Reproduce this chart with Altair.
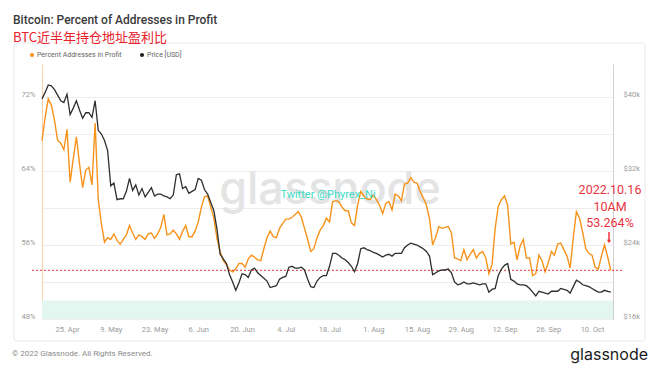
import altair as alt
import pandas as pd

# ---------------- data ----------------
dates = pd.date_range("2022-04-17", "2022-10-16", freq="D").strftime("%Y-%m-%d").tolist()

pct_in_profit = [
    67.3, 69.8, 71.8, 71.1, 69.5, 67.3, 67.0, 66.3, 68.5, 62.8,
    65.3, 67.7, 64.8, 62.2, 64.1, 64.4, 62.5, 69.2, 60.9, 58.3,
    56.3, 56.8, 56.6, 57.2, 56.5, 56.1, 56.6, 57.1, 58.1, 57.3,
    56.6, 57.1, 56.9, 56.6, 57.2, 57.3, 56.7, 57.2, 57.9, 59.3,
    57.1, 57.2, 57.6, 57.2, 56.6, 57.5, 58.1, 56.9, 56.9, 57.5,
    58.5, 60.1, 61.2, 61.3, 60.1, 58.9, 56.7, 55.3, 54.3, 53.9,
    53.3, 53.1, 53.4, 54.0, 54.0, 53.6, 54.5, 54.9, 54.7, 54.4,
    54.3, 55.6, 56.8, 57.5, 56.9, 56.8, 57.8, 58.3, 58.8, 58.8,
    59.0, 59.3, 59.6, 59.0, 57.8, 56.6, 55.3, 55.6, 56.8, 57.6,
    58.1, 58.9, 58.5, 60.7, 60.8, 60.7, 60.1, 59.7, 59.7, 58.4,
    58.1, 60.3, 61.8, 61.3, 61.0, 60.9, 61.4, 60.9, 60.3, 59.4,
    60.5, 60.7, 59.8, 61.5, 61.3, 60.8, 62.6, 62.7, 63.3, 62.8,
    62.7, 61.8, 61.1, 60.3, 58.8, 56.0, 56.9, 58.0, 57.8, 57.9,
    58.0, 57.3, 54.6, 54.5, 54.3, 55.5, 54.4, 55.0, 55.5, 54.6,
    55.1, 55.3, 54.6, 52.9, 53.9, 57.8, 60.2, 60.9, 61.3, 60.3,
    56.1, 56.3, 54.4, 55.9, 56.6, 54.6, 54.6, 52.7, 52.9, 54.9,
    54.3, 53.1, 54.1, 55.3, 54.9, 56.1, 56.2, 55.5, 54.8, 53.5,
    56.8, 59.6, 58.9, 57.4, 55.6, 55.1, 54.9, 53.6, 53.4, 54.8,
    56.0, 54.7, 53.264,
]

price_k = [
    39.8, 40.5, 41.3, 41.2, 40.8, 40.2, 39.6, 39.4, 40.3, 38.1,
    38.8, 39.6, 38.6, 37.7, 38.3, 38.3, 37.8, 39.6, 36.4, 36.0,
    35.3, 34.2, 30.4, 30.7, 28.9, 29.0, 29.0, 29.8, 31.2, 29.9,
    30.5, 29.4, 30.1, 29.2, 29.7, 30.2, 29.3, 29.5, 29.5, 29.3,
    29.2, 29.0, 29.4, 31.6, 31.7, 30.1, 30.3, 29.6, 29.8, 30.0,
    31.2, 31.0, 30.0, 29.5, 28.6, 27.7, 25.7, 23.0, 22.5, 22.0,
    20.8, 20.0, 19.1, 19.9, 20.9, 20.8, 20.5, 21.3, 21.5, 21.0,
    20.7, 20.4, 20.1, 19.4, 19.5, 19.6, 20.3, 20.5, 20.6, 21.6,
    21.7, 21.5, 21.5, 21.6, 21.3, 20.3, 19.5, 19.4, 20.1, 20.5,
    20.7, 20.7, 21.7, 23.1, 23.1, 22.9, 22.6, 22.4, 22.1, 21.7,
    21.1, 22.0, 23.6, 23.7, 23.5, 23.4, 23.2, 23.1, 22.9, 22.7,
    22.9, 23.0, 22.8, 23.1, 23.1, 23.1, 23.7, 24.0, 24.2, 24.1,
    24.0, 23.8, 23.6, 23.3, 22.8, 20.8, 21.0, 21.2, 21.3, 21.3,
    21.4, 21.0, 20.0, 19.7, 19.8, 20.0, 19.8, 19.8, 19.9, 19.8,
    19.7, 19.8, 19.8, 18.9, 19.2, 19.3, 20.7, 21.4, 21.8, 22.0,
    20.3, 20.1, 19.8, 19.7, 19.7, 19.6, 19.3, 18.9, 18.5, 19.0,
    18.9, 18.8, 18.7, 19.0, 19.0, 19.0, 19.3, 19.2, 19.1, 18.8,
    19.5, 20.2, 20.0, 19.7, 19.6, 19.5, 19.3, 19.1, 18.9, 18.9,
    19.1, 19.0, 18.9,
]

tick_dates = [(4, 25), (5, 9), (5, 23), (6, 6), (6, 20), (7, 4), (7, 18),
              (8, 1), (8, 15), (8, 29), (9, 12), (9, 26), (10, 10)]
left_ticks = [48, 52, 56, 60, 64, 68, 72]
right_ticks = [16, 24, 32, 40]
band_range = [48, 50]
marker_value = 53.264
annotation_lines = ["2022.10.16", "10AM", "53.264%"]

df = pd.DataFrame({"date": dates, "pct": pct_in_profit, "price": price_k})
df_band = pd.DataFrame({"date": [dates[0]], "end": ["2022-10-16T17:00:00Z"],
                        "pct": [band_range[0]], "hi": [band_range[1]]})
df_marker = pd.DataFrame({"pct": [marker_value]})

# ---------------- layout ----------------
W, H = 571, 255
ORANGE = "#f7931a"
BLACK = "#2e2e2e"
RED = "#e8333f"
FONT = "Roboto"

x_scale = alt.Scale(type="utc", domain=[
    alt.DateTime(year=2022, month=4, date=17, utc=True),
    alt.DateTime(year=2022, month=10, date=16, hours=17, utc=True)])
left_scale = alt.Scale(domain=[48, 75.57], nice=False, zero=False)
right_scale = alt.Scale(domain=[16, 43.57], nice=False, zero=False)

x_axis = alt.Axis(values=[alt.DateTime(year=2022, month=m, date=d, utc=True) for m, d in tick_dates],
                  format="%-d. %b", title=None, grid=False, ticks=False, domain=False,
                  labelColor="#9a9a9a", labelFontSize=7.5, labelPadding=6, labelFont=FONT)
left_axis = alt.Axis(values=left_ticks, title=None,
                     labelExpr="datum.value % 8 === 0 ? datum.value + '%' : ''",
                     grid=True, gridColor="#ededed", gridWidth=1, ticks=False,
                     domain=True, domainColor="#f9d2aa", domainWidth=1,
                     labelColor="#9a9a9a", labelFontSize=7.5, labelPadding=7,
                     labelOffset=-3, labelFont=FONT)
right_axis = alt.Axis(orient="right", values=right_ticks, title=None,
                      labelExpr="'$' + datum.value + 'k'", grid=False, ticks=False,
                      domain=True, domainColor="#d0d0d0", domainWidth=1,
                      labelColor="#9a9a9a", labelFontSize=7.5, labelPadding=10,
                      labelOffset=-3, labelFont=FONT)

X = alt.X("date:T", scale=x_scale, axis=x_axis)
Y_LEFT = alt.Y("pct:Q", scale=left_scale, axis=left_axis)

one = pd.DataFrame({"a": [0]})


def text(t, x, y, size, color, align="left", weight="normal", font=FONT, opacity=1.0):
    return alt.Chart(one).mark_text(
        text=t, align=align, baseline="middle", fontSize=size, color=color,
        fontWeight=weight, font=font, opacity=opacity
    ).encode(x=alt.value(x), y=alt.value(y))


# background card
card = alt.Chart(one).mark_rect(fillOpacity=0, stroke="#e8e8e8", strokeWidth=1, cornerRadius=3).encode(
    x=alt.value(-28), x2=alt.value(603), y=alt.value(-21), y2=alt.value(277))

watermark = text("glassnode", 288, 126, 45, "#e4e4e4", align="center", weight=500, font="Inter")

band = alt.Chart(df_band).mark_rect(color="#e3f6ef").encode(
    x=X, x2="end:T", y=Y_LEFT, y2="hi:Q")

orange = alt.Chart(df).mark_line(color=ORANGE, strokeWidth=1.4).encode(x=X, y=Y_LEFT)

marker_rule = alt.Chart(df_marker).mark_rule(color=RED, strokeDash=[2, 2], strokeWidth=1).encode(
    x=alt.value(-10), x2=alt.value(W + 10), y=Y_LEFT)

left_group = alt.layer(band, orange, marker_rule)

black = alt.Chart(df).mark_line(color=BLACK, strokeWidth=1.3).encode(
    x=X, y=alt.Y("price:Q", scale=right_scale, axis=right_axis))
right_group = alt.layer(black)

ANN_FONT = "Roboto"
front = [
    text("Bitcoin: Percent of Addresses in Profit", -29, -44, 12, "#3a3a3a", weight=500),
    text("BTC近半年持仓地址盈利比", -29, -26.5, 13, "#e8202a", font="Noto Sans CJK SC"),
    alt.Chart(one).mark_circle(color=ORANGE, size=18, opacity=1).encode(x=alt.value(-10), y=alt.value(-9)),
    text("Percent Addresses in Profit", -5, -9, 7, "#666666"),
    alt.Chart(one).mark_circle(color="#222222", size=18, opacity=1).encode(x=alt.value(100), y=alt.value(-9)),
    text("Price [USD]", 105, -9, 7, "#666666"),
    text("Twitter @Phyrex_Ni", 286, 131, 11, "#3ddbc5", align="center"),
    text(annotation_lines[0], 568, 126, 12.5, RED, align="center", font=ANN_FONT),
    text(annotation_lines[1], 568, 142.5, 12.5, RED, align="center", font=ANN_FONT),
    text(annotation_lines[2], 568, 159, 12.5, RED, align="center", font=ANN_FONT),
    alt.Chart(one).mark_rule(color=RED, strokeWidth=1.5).encode(
        x=alt.value(567), y=alt.value(168), y2=alt.value(176)),
    alt.Chart(one).mark_point(shape="triangle-down", filled=True, color=RED, size=16, opacity=1).encode(
        x=alt.value(567), y=alt.value(177.5)),
    text("© 2022 Glassnode. All Rights Reserved.", -30, 290, 8, "#8a8a8a"),
    text("glassnode", 606, 291, 16, "#1c1c1c", align="right", font="Inter", weight=400),
]

chart = alt.layer(card, watermark, left_group, right_group, *front).resolve_scale(
    y="independent"
).properties(
    width=W, height=H,
    padding={"left": 34, "top": 56, "right": 39, "bottom": 45},
    autosize=alt.AutoSizeParams(type="none"),
    background="white",
).configure_view(stroke=None)

chart.save("out.html", embed_options={"renderer": "svg", "actions": False})
